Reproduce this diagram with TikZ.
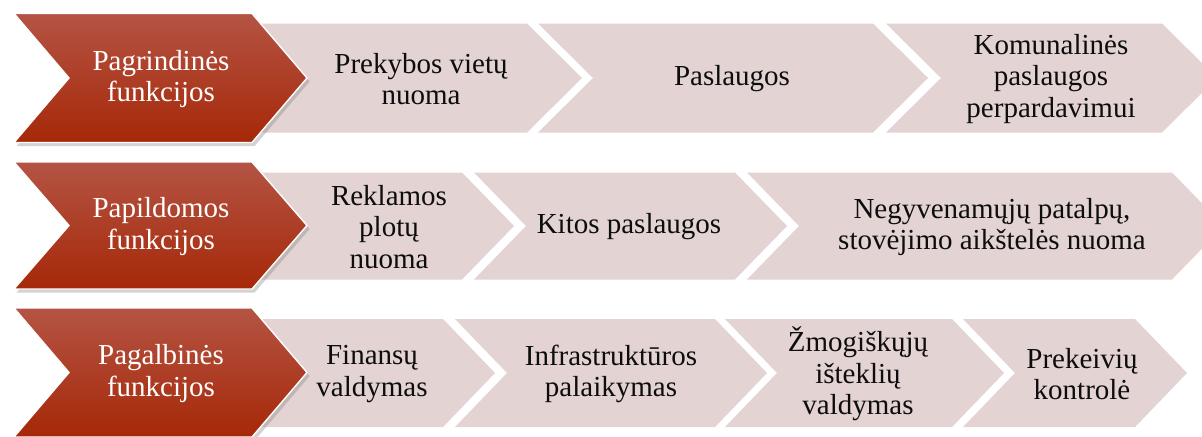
\documentclass[tikz,border=0pt]{standalone}
\usepackage{fontspec}
\setmainfont{Liberation Serif}
\usetikzlibrary{shadows}
\definecolor{funcred}{RGB}{166,40,8}
\definecolor{funcredtop}{RGB}{180,84,68}
\definecolor{boxpink}{RGB}{227,211,210}
\newcommand{\chevron}[6]{\path[#1] (#2,#4-#5) -- (#3,#4-#5) -- (#3+#6,#4) -- (#3,#4+#5) -- (#2,#4+#5) -- (#2+#6,#4) -- cycle;}

\begin{document}
\begin{tikzpicture}[x=0.02cm,y=-0.02cm,
  func/.style={top color=funcredtop,bottom color=funcred,draw=white,line width=0.8pt,
    drop shadow={shadow xshift=1.5pt,shadow yshift=-2pt,opacity=0.35}},
  act/.style={fill=boxpink},
  functxt/.style={align=center,text=white,font=\fontsize{16.5}{18}\selectfont},
  acttxt/.style={align=center,text=black!95,font=\fontsize{16.5}{18}\selectfont}]
\useasboundingbox (0,0) rectangle (1202,436);
\clip (0,0) rectangle (1202,436);

% pagrindines
\chevron{act}{240}{527}{78}{54.5}{55}
\chevron{act}{538}{873}{78}{54.5}{55}
\chevron{act}{886}{1162}{78}{54.5}{55}
\chevron{func}{14}{252}{78}{64.5}{55}
\node[functxt] at (161,79) (pagrindines) {Pagrindinės\\funkcijos};
\node[acttxt] at (421,79) (prekyba) {Prekybos vietų\\nuoma};
\node[acttxt] at (732,79) (paslaugos) {Paslaugos};
\node[acttxt] at (1051,79) (komunalines) {Komunalinės\\paslaugos\\perpardavimui};

% papildomos
\chevron{act}{240}{462}{226}{53.5}{52}
\chevron{act}{474}{735}{226}{53.5}{52}
\chevron{act}{747}{1172}{226}{53.5}{52}
\chevron{func}{14}{252}{225.5}{63.5}{55}
\node[functxt] at (161,226.5) (papildomos) {Papildomos\\funkcijos};
\node[acttxt] at (389,227) (reklama) {Reklamos\\plotų\\nuoma};
\node[acttxt] at (629,227) (kitos) {Kitos paslaugos};
\node[acttxt] at (992,227) (negyvenamosios) {Negyvenamųjų patalpų,\\stovėjimo aikštelės nuoma};

% pagalbines
\chevron{act}{240}{443}{373}{54}{52}
\chevron{act}{455}{715}{373}{54}{52}
\chevron{act}{725}{952}{373}{54}{52}
\chevron{act}{963}{1135}{373}{54}{52}
\chevron{func}{14}{252}{372.5}{64.5}{55}
\node[functxt] at (161,373.5) (pagalbines) {Pagalbinės\\funkcijos};
\node[acttxt] at (372,374) (finansai) {Finansų\\valdymas};
\node[acttxt] at (611,374) (infrastruktura) {Infrastruktūros\\palaikymas};
\node[acttxt] at (858,374) (zmogiskieji) {Žmogiškųjų\\išteklių\\valdymas};
\node[acttxt] at (1082,374) (prekeiviai) {Prekeivių\\kontrolė};
\end{tikzpicture}
\end{document}
